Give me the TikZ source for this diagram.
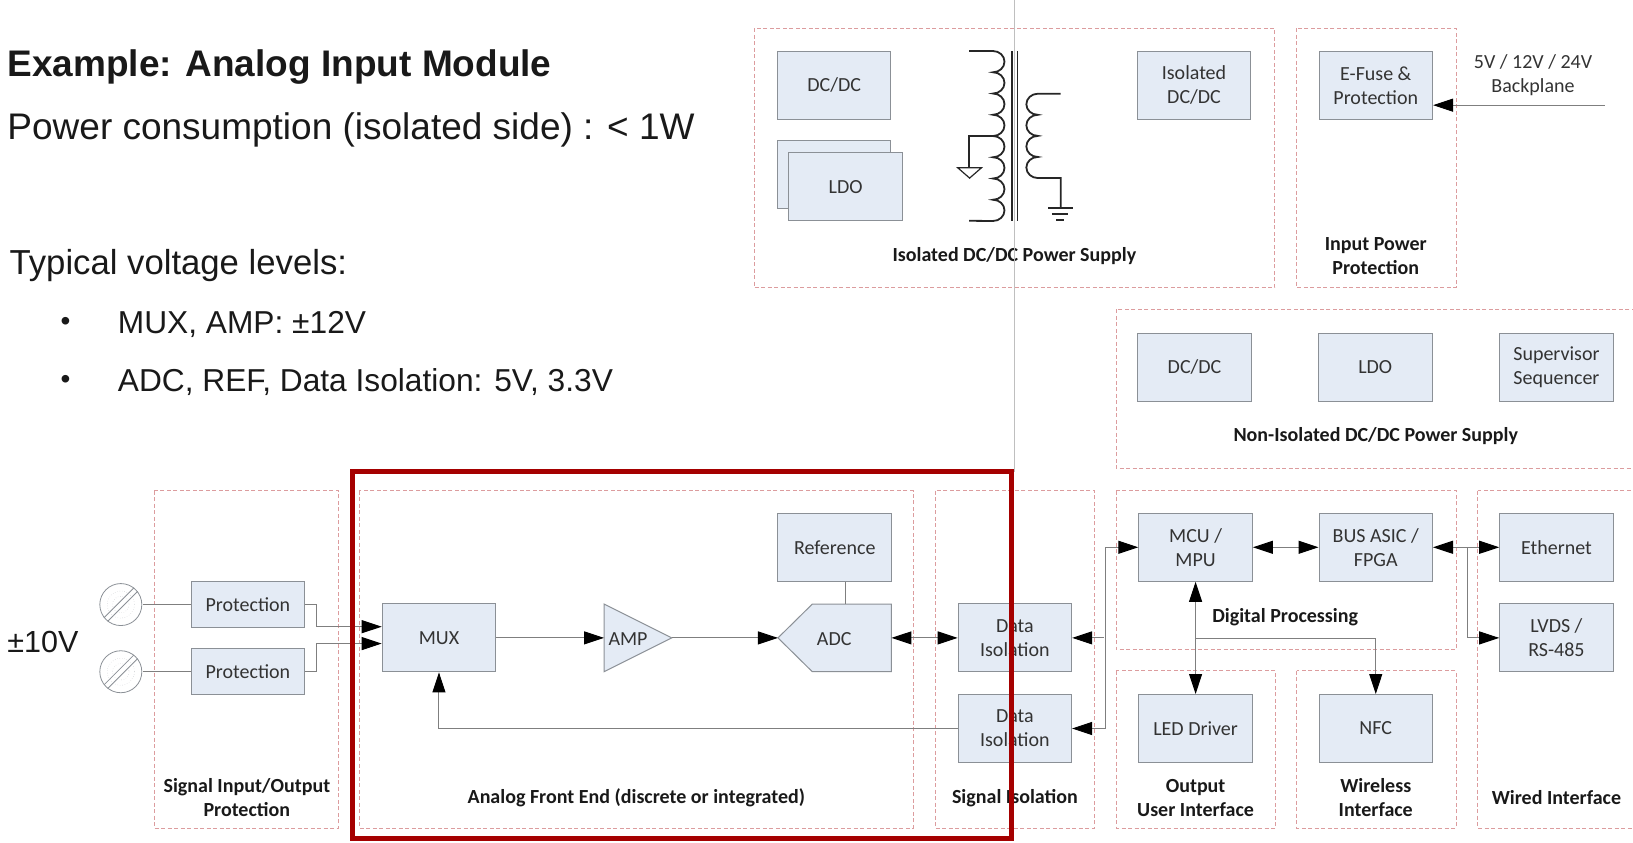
\documentclass[tikz,border=0pt]{standalone}
\usepackage{fontspec}
\setmainfont{Carlito}
\newfontfamily\arialfont{Liberation Sans}
\usetikzlibrary{arrows.meta}
\definecolor{grpred}{HTML}{DC9C9E}
\definecolor{blkfill}{HTML}{E4EBF5}
\definecolor{blkline}{HTML}{8B9096}
\definecolor{connline}{HTML}{7F7F7F}
\definecolor{markred}{HTML}{A50000}
\tikzset{
	grpbox/.style={draw=grpred, line width=0.9pt, dash pattern=on 4pt off 2.5pt},
	blk/.style={draw=blkline, fill=blkfill, line width=1pt, text=black!80, align=center, inner sep=0pt,
		font=\fontsize{20}{24}\selectfont, minimum width=113.5pt, minimum height=68pt},
	shortblk/.style={blk, minimum height=46pt},
	head/.style={align=center, inner sep=0pt, yshift=-2pt, text=black!90, font=\fontsize{20}{24}\selectfont\bfseries},
	plain/.style={align=center, inner sep=0pt, yshift=-1pt, text=black!80, font=\fontsize{20}{24}\selectfont},
	slide/.style={anchor=west, inner sep=0pt, yshift=-2.5pt, text=black!90, font=\arialfont\fontsize{31.7}{36}\selectfont},
	bigslide/.style={slide, font=\arialfont\fontsize{37}{42}\selectfont},
	conn/.style={draw=connline, line width=1pt},
	tip/.style={conn, -{Triangle[length=20pt,width=13pt,color=black]}},
	tips/.style={conn, {Triangle[length=20pt,width=13pt,color=black]}-{Triangle[length=20pt,width=13pt,color=black]}},
	terminal/.style={draw=blkline, circle, inner sep=0pt, minimum size=42pt, line width=0.8pt},
	coil/.style={draw=black!85, line width=1.8pt}
}
\begin{document}
\begin{tikzpicture}[x=1.0415pt, y=-1.0415pt]
	\useasboundingbox (0,0) rectangle (1568,809.4);

	\node[bigslide, font=\arialfont\fontsize{37}{42}\selectfont\bfseries] (title) at (7,62) {Example: Analog Input Module};
	\node[bigslide] (power) at (7,122) {Power consumption (isolated side) : < 1W};
	\node[slide, font=\arialfont\fontsize{34.7}{40}\selectfont] (levels) at (9,253) {Typical voltage levels:};
	\node[slide, font=\arialfont\fontsize{28}{32}\selectfont] (dota) at (58,309) {•};
	\node[slide] (levela) at (113,309) {MUX, AMP: ±12V};
	\node[slide, font=\arialfont\fontsize{28}{32}\selectfont] (dotb) at (58,364) {•};
	\node[slide] (levelb) at (113,364) {ADC, REF, Data Isolation: 5V, 3.3V};
	\node[slide, font=\arialfont\fontsize{30.5}{36}\selectfont] (range) at (7,614) {±10V};

	\draw[grpbox] (724,27) rectangle (1224,276);
	\draw[grpbox] (1245,27) rectangle (1398,276);
	\draw[grpbox] (1072,297) rectangle (1574,450);
	\draw[grpbox] (148,471) rectangle (325,795);
	\draw[grpbox] (345,471) rectangle (877,795);
	\draw[grpbox] (898,471) rectangle (1051,795);
	\draw[grpbox] (1072,471) rectangle (1398,624);
	\draw[grpbox] (1072,644) rectangle (1225,795);
	\draw[grpbox] (1245,644) rectangle (1398,795);
	\draw[grpbox] (1419,471) rectangle (1574,795);

	\node[blk] (dcA) at (801,82) {DC/DC};
	\node[blk] (ldoB) at (801,168) {};
	\node[blk] (ldoA) at (812,179.5) {LDO};
	\node[blk] (isodc) at (1146.5,82) {Isolated\\DC/DC};
	\node[blk] (efuse) at (1321,82) {E-Fuse \&\\Protection};
	\node[plain] (backplane) at (1472,71.5) {5V / 12V / 24V\\Backplane};
	\coordinate (bpin) at (1541,101);
	\node[head] (isolabel) at (974,244) {Isolated DC/DC Power Supply};
	\node[head] (inlabel) at (1321,243.5) {Input Power\\Protection};

	\node[blk] (dcB) at (1147,352.5) {DC/DC};
	\node[blk] (ldoC) at (1320.5,352.5) {LDO};
	\node[blk] (superv) at (1494.5,352.5) {Supervisor\\Sequencer};
	\node[head] (nonlabel) at (1321,417) {Non-Isolated DC/DC Power Supply};

	\node[terminal] (inA) at (116,580.5) {};
	\node[terminal] (inB) at (116,645) {};
	\draw[blkline, line width=0.8pt] (inA.52) -- (inA.218) (inA.38) -- (inA.232);
	\draw[blkline, line width=0.8pt] (inB.52) -- (inB.218) (inB.38) -- (inB.232);
	\draw[blkline!60, dotted] (inA) circle (13) (inA) circle (8);
	\draw[blkline!60, dotted] (inB) circle (13) (inB) circle (8);
	\node[shortblk] (protA) at (238,580.5) {Protection};
	\node[shortblk] (protB) at (238,645) {Protection};
	\node[head] (siglabel) at (237,764) {Signal Input/Output\\Protection};

	\node[blk] (mux) at (421.5,612.5) {MUX};
	\draw[blk] (580,580) -- (645,612.5) -- (580,645) -- cycle;
	\node[plain] (amp) at (603,612.5) {AMP};
	\coordinate (ampin) at (580,612.5);
	\coordinate (ampout) at (645,612.5);
	\draw[blk] (747,612.5) -- (780,580) -- (856,580) -- (856,645) -- (780,645) -- cycle;
	\node[plain] (adc) at (801,612.5) {ADC};
	\coordinate (adcin) at (747,612.5);
	\coordinate (adcout) at (856,612.5);
	\coordinate (adctop) at (812,580);
	\node[blk] (ref) at (801.5,525.5) {Reference};
	\node[head] (afelabel) at (611,764) {Analog Front End (discrete or integrated)};

	\node[blk] (isoA) at (974.5,612.5) {Data\\Isolation};
	\node[blk] (isoB) at (974.5,699.5) {Data\\Isolation};
	\node[head] (isolslabel) at (974.5,764) {Signal Isolation};

	\node[blk] (mcu) at (1148,525.5) {MCU /\\MPU};
	\node[blk] (bus) at (1321,525.5) {BUS ASIC /\\FPGA};
	\node[head] (diglabel) at (1234,591) {Digital Processing};
	\node[blk] (led) at (1148,699.5) {LED Driver};
	\node[blk] (nfc) at (1321,699.5) {NFC};
	\node[head] (outlabel) at (1148,764) {Output\\User Interface};
	\node[head] (wirelabel) at (1321,764) {Wireless\\Interface};
	\node[blk] (eth) at (1494.5,525.5) {Ethernet};
	\node[blk] (lvds) at (1494.5,612.5) {LVDS /\\RS-485};
	\node[head] (wiredlabel) at (1494.5,764) {Wired Interface};

	\draw[tip] (bpin) -- (bpin -| efuse.east);
	\draw[conn] (inA) ++(21,0) -- (protA.west);
	\draw[conn] (inB) ++(21,0) -- (protB.west);
	\draw[tip] (protA.east) -- ++(11,0) |- ([yshift=11.2pt]mux.west);
	\draw[tip] (protB.east) -- ++(11,0) |- ([yshift=-5.7pt]mux.west);
	\draw[tip] (mux.east) -- (ampin);
	\draw[tip] (ampout) -- (adcin);
	\draw[tips] (adcout) -- (isoA.west);
	\draw[conn] (ref.south -| adctop) -- (adctop);
	\draw[tip] (isoB.west) -| (mux.south);
	\draw[tip] (mcu.west) ++(-33,87) -- (isoA.east);
	\draw[tip] (isoB.east) ++(32,0) -- (isoB.east);
	\draw[tip] (isoB.east) ++(32,0) |- (mcu.west);
	\draw[tips] (mcu.east) -- (bus.west);
	\draw[tips] (bus.east) -- (eth.west);
	\draw[tip] (bus.east) ++(33,0) |- (lvds.west);
	\draw[tips] (mcu.south) -- (led.north);
	\draw[tip] (mcu.south) ++(0,54) -| (nfc.north);

	\draw[coil] (930.5,49) -- (953.5,49) arc (-90:90:11 and 10.2) arc (-90:90:11 and 10.2) arc (-90:90:11 and 10.2) arc (-90:90:11 and 10.2) arc (-90:90:11 and 10.2) arc (-90:90:11 and 10.2) arc (-90:90:11 and 10.2) arc (-90:90:11 and 10.2) -- (930.5,212);
	\draw[coil] (972,49) -- (972,212) (977,49) -- (977,212);
	\draw[coil] (954,130.5) -- (930.5,130.5) -- (930.5,161);
	\draw[coil, line width=1.2pt] (919.5,161) -- (942.5,161) -- (931,171) -- cycle;
	\draw[coil] (1018.5,90) -- (996.5,90) arc (-90:-270:11 and 10.12) arc (-90:-270:11 and 10.12) arc (-90:-270:11 and 10.12) arc (-90:-270:11 and 10.12) -- (1018.5,171) -- (1018.5,200);
	\draw[coil] (1006.5,200) -- (1030,200) (1010,205.5) -- (1025.5,205.5) (1014,211) -- (1021.5,211);

	\draw[black!25, line width=1pt] (974.5,0) -- (974.5,453);
	\draw[markred, line width=5pt] (338,453) rectangle (971,805);
\end{tikzpicture}
\end{document}
